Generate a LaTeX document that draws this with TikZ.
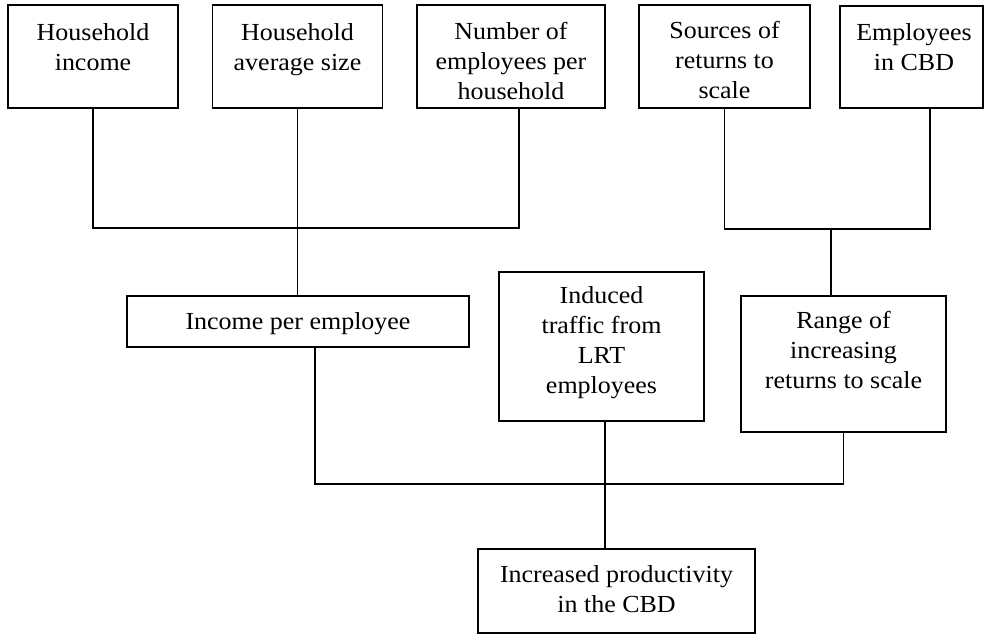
\documentclass[tikz,border=0pt]{standalone}
\usepackage{fontspec}
\setmainfont[FakeStretch=1.06]{Liberation Serif}
\begin{document}
\begin{tikzpicture}[x=1pt,y=-1pt,
  box/.style={draw, line width=1.7pt, inner sep=0pt},
  lbl/.style={inner sep=0pt, align=center, anchor=north, font=\fontsize{24.5}{30}\selectfont},
  link/.style={line width=1.4pt}]
\useasboundingbox (0,0) rectangle (984,634);
% boxes
\node[box, minimum width=170pt, minimum height=103pt] (b1) at (93,56.5) {};
\node[box, minimum width=170pt, minimum height=103pt] (b2) at (297.5,56.5) {};
\node[box, minimum width=188pt, minimum height=103pt] (b3) at (511,56.5) {};
\node[box, minimum width=171pt, minimum height=103pt] (b4) at (724.5,56.5) {};
\node[box, minimum width=143pt, minimum height=102pt] (b5) at (911.5,57) {};
\node[box, minimum width=342pt, minimum height=51pt] (inc) at (298,321.5) {};
\node[box, minimum width=205pt, minimum height=149pt] (ind) at (601.5,346.5) {};
\node[box, minimum width=205pt, minimum height=136pt] (rng) at (843.5,364) {};
\node[box, minimum width=277pt, minimum height=84pt] (fin) at (616.5,591) {};
% texts
\node[lbl] (t1) at (93,23.3) {Household\\income};
\node[lbl] (t2) at (297.5,23.3) {Household\\average size};
\node[lbl] (t3) at (511,22.3) {Number of\\employees per\\household};
\node[lbl] (t4) at (724.5,21.3) {Sources of\\returns to\\scale};
\node[lbl] (t5) at (914,23.3) {Employees\\in CBD};
\node[lbl] (t6) at (298,312.3) {Income per employee};
\node[lbl] (t7) at (601.5,286.3) {Induced\\traffic from\\LRT\\employees};
\node[lbl] (t8) at (843.5,311.3) {Range of\\increasing\\returns to scale};
\node[lbl] (t9) at (616.5,565.3) {Increased productivity\\in the CBD};
% connectors
\coordinate (j1) at (297.5,228);
\coordinate (j2) at (831,229);
\coordinate (j3) at (605,484);
\draw[link] (b1.south) |- ([xshift=8pt]b3.south |- j1) -- ([xshift=8pt]b3.south);
\draw[link] (b2.south) -- (b2.south |- inc.north);
\draw[link] (b4.south) |- ([xshift=18.5pt]b5.south |- j2) -- ([xshift=18.5pt]b5.south);
\draw[link] (j2) -- (j2 |- rng.north);
\draw[link] ([xshift=17pt]inc.south) |- (rng.south |- j3) -- (rng.south);
\draw[link] (j3 |- ind.south) -- (j3 |- fin.north);
\end{tikzpicture}
\end{document}
